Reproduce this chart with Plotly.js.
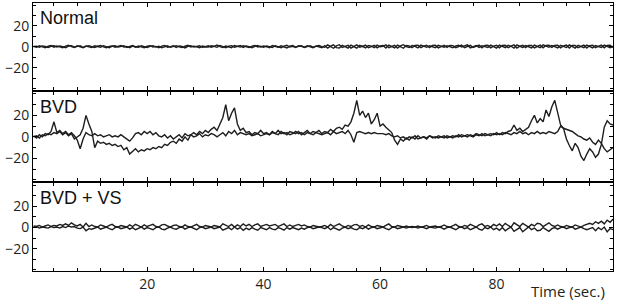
<!DOCTYPE html>
<html>
<head>
<meta charset="utf-8">
<script src="https://cdn.plot.ly/plotly-3.0.1.min.js"></script>
<style>html,body{margin:0;padding:0;background:#fff;}#chart{width:622px;height:305px;}</style>
</head>
<body>
<div id="chart"></div>
<script>
// sample times (seconds), one sample every 0.5 s
const SAMPLE_STEP = 0.5;
const panelLabels = ["Normal", "BVD", "BVD + VS"];
const xTickVals = [20, 40, 60, 80];
const yTickVals = [-20, 0, 20];
const xTitle = "Time (sec.)";

// Panel 1: Normal
const normalA = [
0.5,-0.5,1,0,-1,0.5,1.2,-0.3,0.8,0,-0.8,0.6,1.5,0.2,-0.6,0.9,0.3,-1,0.4,1.1,
0.2,-0.7,0.5,1.3,0,-0.9,0.3,0.8,-0.4,0.6,1.2,-0.2,0.4,-0.8,0.7,0.1,-0.5,1,0.3,-0.6,
0.4,1,-0.3,0.6,-1,0.2,0.9,-0.5,0.3,1.1,0,-0.7,0.5,1.4,-0.2,0.6,0,-0.9,0.7,0.2,
1,-0.4,0.5,1.6,0.1,-0.6,0.8,0.3,-0.8,1.2,0.4,-0.3,0.9,0,-0.7,0.6,1.3,-0.1,0.5,-0.5,
0.8,0.2,-0.6,1,0.3,-0.9,0.7,1.5,-0.2,0.4,-0.6,1.1,0.5,-0.4,0.9,0,-1,0.6,1.2,0.1,
-0.5,1.8,0.2,-1.4,0.9,2,-0.6,0.4,1.4,-1.2,0.7,1.9,-0.3,0.5,-1,1.3,0.6,-0.8,1.6,0,
0.4,1.9,-0.9,0.3,1.5,-1.3,0.8,2,0.1,-0.7,1.2,0.5,-1.1,1.7,0.3,-0.5,1,0.2,-0.8,1.4,
0.6,-0.4,1.1,0.2,-0.9,0.8,1.5,-0.2,0.5,1.8,-1,0.4,1.3,-0.6,0.9,0.1,-0.7,1.6,0.3,-1.2,
1.7,0.2,-0.8,1.4,0.5,-1.3,1.9,0.4,-0.6,1.2,0,-1,1.6,0.6,-0.9,1.8,0.3,-0.5,1.3,0.1,
-1.1,1.5,0.4,-0.7,1.8,0.2,-1.2,1.4,0.6,-0.8,1.7,0.3,-1,1.2,0.5,-0.6,1.6,0.2,-0.9,0.4
];
const normalB = [
0.2,0.6,-0.4,0.9,0.3,-0.7,0.5,1,-0.2,0.7,0.1,-0.9,0.6,1.1,-0.3,0.4,1,-0.5,0.8,0,
-0.6,0.9,0.2,-0.4,1.1,0.3,-0.8,0.6,1,-0.3,0.5,0.9,-0.6,0.2,1.2,-0.4,0.7,0,-0.9,0.5,
1.1,-0.2,0.4,-0.9,0.7,1.3,-0.4,0.2,0.9,-0.6,0.8,0.3,-1,0.5,1.1,-0.3,0.6,1,-0.5,0.1,
-0.3,1,0.4,-0.5,1.3,0.2,-0.9,0.6,1.1,-0.4,0.3,1.2,-0.6,0.8,0.2,-0.8,0.5,1.3,-0.2,0.7,
0.1,-0.8,1.2,0.4,-0.5,1,0.2,-1.1,0.7,1.3,-0.3,0.5,0.9,-0.7,0.3,1.1,-0.4,0.6,0,-0.9,
1.2,-1.3,0.6,1.9,-0.8,-1.1,1.5,0.3,-1.2,1.6,0.2,-1.3,1.4,0.4,1.7,-0.9,0.1,1.5,-1.1,0.8,
1.2,-1.2,1.6,0.5,-1,1.7,0.2,-1.4,1.3,0.9,-0.9,1.4,1.6,-0.8,0.6,1.5,-0.7,1.3,1.6,-1,
0.2,1.5,-0.6,1.3,1.1,-0.8,0.3,1.6,-0.9,0.2,1.4,-0.7,0.5,1.7,-0.9,1.2,1.4,-1,0.6,1.5,
-1,1.3,1.5,-0.9,0.7,1.8,-1.2,0.6,1.5,-0.8,1.3,1.4,-1.1,0.5,1.6,-1,1.2,1.4,-0.6,1.3,
1.5,-1,0.8,1.6,-1.2,1.3,1.4,-0.9,0.5,1.7,-1.1,1.2,1.5,-0.8,0.4,1.6,-1,1.3,1.5,-0.6
];

// Panel 2: BVD
const bvdA = [
1,-1,2,0,3,2,5,14,4,6,3,5,2,4,1,-3,-11,-2,4,2,
1,3,1,2,0,1,2,0,1,0,2,0,-2,-4,-1,3,4,2,5,3,
5,2,4,1,0,2,-1,1,-2,0,2,-1,3,1,2,4,2,5,3,6,
4,7,9,6,12,18,30,15,22,27,12,6,8,4,5,2,4,3,6,3,
4,2,5,3,6,3,4,2,5,4,3,5,2,4,6,3,5,4,6,3,
5,4,7,5,8,9,7,11,10,14,22,34,20,24,18,22,12,16,22,10,
12,9,6,4,-3,-7,-2,-4,-1,-3,0,-2,1,-1,0,-2,1,0,-1,1,
0,1,-1,0,1,0,2,0,1,2,1,0,2,1,3,1,2,3,2,4,
2,4,3,5,6,11,6,8,5,7,9,15,20,13,17,14,25,19,28,34,
22,11,8,-2,-8,-13,-6,-10,-18,-22,-16,-11,-14,-19,-16,-7,9,15,12,11
];
const bvdB = [
0,1,-1,2,1,3,2,4,3,5,2,4,1,3,-2,0,2,8,20,12,
5,-10,-4,-6,-5,-7,-6,-8,-7,-9,-8,-12,-10,-16,-13,-11,-14,-12,-13,-11,
-12,-10,-11,-9,-10,-7,-8,-5,-4,-6,-2,-4,0,-3,2,0,1,3,0,2,
1,3,2,0,2,4,1,5,3,6,2,4,3,2,3,1,2,3,1,2,
3,2,4,3,2,5,3,4,2,3,5,3,4,2,4,3,2,4,3,2,
3,4,2,5,3,4,5,3,6,2,-5,4,5,4,3,4,3,4,3,3,
3,2,3,1,0,1,-1,0,-2,0,-1,1,-2,-1,0,-1,1,-1,0,-1,
0,-1,1,0,-1,1,0,2,1,0,2,1,3,2,1,3,2,1,3,2,
3,2,4,3,2,4,3,5,3,4,2,4,3,5,3,4,3,5,4,3,
5,10,8,7,6,5,3,1,0,-2,-3,-1,-5,-7,-3,-6,-11,-14,-12,-10
];

// Panel 3: BVD + VS
const vsA = [
1.5,1,2,0.5,1.5,2.5,1,2,1.5,3,2,3.5,2,4.5,2.5,1.5,3,0.5,4,1,
2.5,1,0.5,2.5,1.5,0.5,2,3,1,0.5,2,1,0.5,2.5,1,3,2,0.5,2.5,1,
2,3,1,0.5,2.5,3,1.5,0.5,2,2.5,1,0.5,2.5,1,0.5,1.5,3,1,0.5,2,
1,0.5,2,1,0.5,3.5,2,1,3,0.5,2.5,1,3.5,1.5,3,1,2.5,3.5,1,2,
3,1.5,2.5,3,1,2,3.5,1,2.5,1,2,3,1.5,2.5,1,0.5,2,1.5,0.5,1,
2,0.5,3,1,2.5,3.5,1.5,0.5,2,1,2.5,3,1,2,0.5,2.5,1,0.5,2,1.5,
0.5,2,3.5,1,0.5,2,1,0.5,1.5,0.5,1,0.5,1.5,0.5,1,2,0.5,1,1.5,0.5,
1,2.5,1,0.5,2,3,1,0.5,2,1,3,1.5,0.5,2.5,3.5,1,2,0.5,3,1.5,
3.5,1,4,2,0.5,4.5,3,1,4,2,0.5,3,1.5,4,3.5,1,2.5,4.5,2,1,
2.5,1,0.5,2,1,0.5,2.5,1.5,0.5,2,3,4,3,5.5,4,6,3.5,7,5,8
];
const vsB = [
0.5,1,-0.5,0.5,0,-0.5,1,0,0.5,-0.5,1,0,1.5,0.5,1,-0.5,-1,0.5,-3,-1,
-1.5,-0.5,0.5,-1.5,-0.5,0.5,-1,-2,0,0.5,-1,0,0.5,-1.5,0,-2,-1,0.5,-1.5,0,
-1,-2,0,0.5,-1.5,-2,-0.5,0.5,-1,-1.5,0,0.5,-1.5,0,0.5,-0.5,-2,0,0.5,-1,
0,0.5,-1,0,0.5,-2.5,-1,0,-2,0.5,-1.5,0,-2.5,-0.5,-2,0,-1.5,-2.5,0,-1,
-2,0,-1.5,-2,0,-1,-2.5,0,-1.5,0,-1,-2,-0.5,-1.5,0,0.5,-1,-0.5,0.5,0,
-1,0.5,-2,0,-1.5,-2.5,-0.5,0.5,-1,0,-1.5,-2,0,-1,0.5,-1.5,0,0.5,-1,-0.5,
0.5,-1,-2,0,0.5,-1,0,0.5,-0.5,0.5,0,0.5,-0.5,0.5,0,-1,0.5,0,-0.5,0.5,
0,-1.5,0,0.5,-1,-2,0,0.5,-1,0,-2,-0.5,0.5,-1.5,-2.5,0,-1,0.5,-2,-0.5,
-2.5,0,-3,-1,0.5,-3.5,-2,0,-4,-1.5,0.5,-2,-0.5,-3,-2.5,0,-1.5,-3.5,-1,0,
-1.5,0,0.5,-1,0,0.5,-1.5,-0.5,0.5,-1,-2,-1,0,-3,0,-2,0.5,-4,-1,-2
];

const time = normalA.map((_, i) => SAMPLE_STEP * (i + 1));

const lineStyle = {color: '#1e1e1e', width: 1.4};
const panels = [[normalA, normalB], [bvdA, bvdB], [vsA, vsB]];
const traces = [];
panels.forEach((pair, p) => {
  const sfx = p === 0 ? '' : String(p + 1);
  pair.forEach(series => {
    traces.push({x: time, y: series, type: 'scatter', mode: 'lines',
      line: lineStyle, xaxis: 'x' + sfx, yaxis: 'y' + sfx, showlegend: false,
      hoverinfo: 'skip'});
  });
});

const tickFont = {family: 'Open Sans, sans-serif', size: 14, color: '#231f20'};
function xAxis(anchor, showLabels) {
  return {anchor: anchor, range: [0.4, 100], tickvals: xTickVals, ticks: 'inside', ticklen: 4,
    tickcolor: '#000', showticklabels: showLabels, tickfont: tickFont, showline: true,
    linecolor: '#000', linewidth: 1, mirror: 'ticks', showgrid: false, zeroline: false,
    minor: {dtick: 4, tick0: 0, ticks: 'inside', ticklen: 3, tickcolor: '#000', showgrid: false}};
}
function yAxis(anchor, domain) {
  return {anchor: anchor, domain: domain, range: [-41, 42], tickvals: yTickVals, ticks: 'inside',
    ticklen: 4, tickcolor: '#000', tickfont: tickFont, showline: true, linecolor: '#000',
    linewidth: 1, mirror: 'ticks', showgrid: false, zeroline: false,
    minor: {dtick: 10, tick0: 0, ticks: 'inside', ticklen: 3, tickcolor: '#000', showgrid: false}};
}
const labelFont = {family: 'Liberation Sans, Arial, sans-serif', size: 18, color: '#111'};
const annotations = panelLabels.map((txt, p) => {
  const sfx = p === 0 ? '' : String(p + 1);
  return {text: txt, xref: 'x' + sfx + ' domain', yref: 'y' + sfx + ' domain', x: 0.008, y: 0.83,
    xanchor: 'left', yanchor: 'middle', showarrow: false, font: labelFont};
});
annotations.push({text: xTitle, xref: 'paper', yref: 'paper', x: 0.99, y: -0.075, xanchor: 'right',
  yanchor: 'middle', showarrow: false, font: {family: 'Open Sans, sans-serif', size: 15, color: '#231f20'}});

const layout = {
  width: 622, height: 305,
  margin: {l: 33, r: 9, t: 3, b: 34},
  paper_bgcolor: '#fff', plot_bgcolor: '#fff',
  xaxis: xAxis('y', false), yaxis: yAxis('x', [0.677, 1]),
  xaxis2: xAxis('y2', false), yaxis2: yAxis('x2', [0.336, 0.669]),
  xaxis3: xAxis('y3', true), yaxis3: yAxis('x3', [0, 0.328]),
  annotations: annotations
};
Plotly.newPlot('chart', traces, layout, {staticPlot: true, displayModeBar: false});
</script>
</body>
</html>
